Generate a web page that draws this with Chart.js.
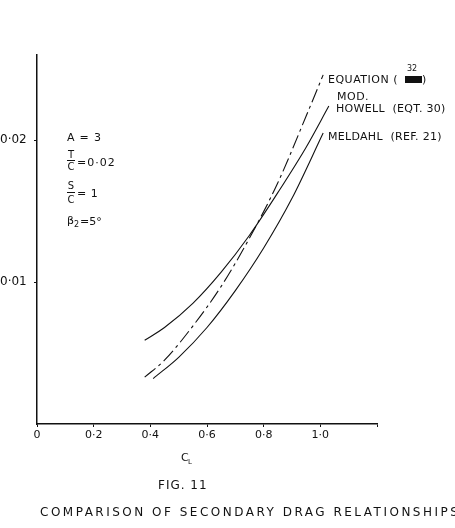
<!DOCTYPE html>
<html lang="en">
<head>
  <meta charset="UTF-8" />
  <title>Fig. 11 - Secondary drag relationships</title>
  <style>
    body { margin: 0; background: #fff; }
    #wrap { width: 455px; height: 528px; }
  </style>
</head>
<body>
  <div id="wrap">
    <canvas id="fig11" width="455" height="528"></canvas>
  </div>

  <script src="https://cdn.jsdelivr.net/npm/chart.js"></script>
  <script>
    // values (C_L vs secondary drag coefficient)
    const eqnCL   = [0.38, 0.45, 0.55, 0.65, 0.75, 0.85, 0.95, 1.01];
    const eqnCD   = [0.0033, 0.0045, 0.0069, 0.0097, 0.0131, 0.0170, 0.0217, 0.0246];

    const howellCL = [0.38, 0.45, 0.55, 0.65, 0.75, 0.85, 0.95, 1.03];
    const howellCD = [0.0059, 0.0068, 0.0085, 0.0107, 0.0133, 0.0163, 0.0195, 0.0224];

    const meldahlCL = [0.41, 0.50, 0.60, 0.70, 0.80, 0.90, 1.01];
    const meldahlCD = [0.0032, 0.0047, 0.0068, 0.0094, 0.0124, 0.0159, 0.0205];

    const xTicks = [0, 0.2, 0.4, 0.6, 0.8, 1.0, 1.2];
    const xTickLabels = ["0", "0·2", "0·4", "0·6", "0·8", "1·0", ""];
    const yTicks = [0.01, 0.02];
    const yTickLabels = ["0·01", "0·02"];

    const FONT = '"DejaVu Sans", sans-serif';

    function pts(xs, ys) {
      return xs.map((x, i) => ({ x: x, y: ys[i] }));
    }

    function txt(ctx, s, x, y, size, spacing, align) {
      ctx.font = size + 'px ' + FONT;
      ctx.letterSpacing = (spacing || 0) + 'px';
      ctx.textAlign = align || 'left';
      ctx.textBaseline = 'middle';
      ctx.fillText(s, x, y);
    }

    const notes = {
      id: 'notes',
      afterDraw(chart) {
        const ctx = chart.ctx;
        ctx.save();
        ctx.fillStyle = '#111';
        ctx.strokeStyle = '#111';
        ctx.lineWidth = 1;

        // parameters on the left
        txt(ctx, 'A = 3', 67, 138, 11, 0.8);
        txt(ctx, 'T', 71, 155, 10, 0, 'center');
        ctx.beginPath(); ctx.moveTo(67, 160.5); ctx.lineTo(75, 160.5); ctx.stroke();
        txt(ctx, 'C', 71, 167, 10, 0, 'center');
        txt(ctx, '=0·02', 77, 163, 11, 1);
        txt(ctx, 'S', 71, 186, 10, 0, 'center');
        ctx.beginPath(); ctx.moveTo(67, 192.5); ctx.lineTo(75, 192.5); ctx.stroke();
        txt(ctx, 'C', 71, 200, 10, 0, 'center');
        txt(ctx, '= 1', 77, 194, 11, 0.5);
        txt(ctx, 'β', 67, 221, 11, 0);
        txt(ctx, '2', 74, 225, 8, 0);
        txt(ctx, '=5°', 80, 222, 11, 0);

        // curve labels
        txt(ctx, 'EQUATION (', 328, 80, 11, 0.5);
        ctx.fillRect(405, 76, 17, 7);
        txt(ctx, ')', 422, 80, 11, 0);
        txt(ctx, '32', 412, 69, 8, 0, 'center');
        txt(ctx, 'MOD.', 337, 97, 11, 0.5);
        txt(ctx, 'HOWELL  (EQT. 30)', 336, 109, 11, 0.3);
        txt(ctx, 'MELDAHL  (REF. 21)', 328, 137, 11, 0.3);

        // axis title and captions
        txt(ctx, 'C', 181, 458, 11, 0);
        txt(ctx, 'L', 188, 462, 7, 0);
        txt(ctx, 'FIG. 11', 158, 486, 12, 1);
        txt(ctx, 'COMPARISON OF SECONDARY DRAG RELATIONSHIPS', 40, 513, 12, 2.5);
        ctx.restore();
      }
    };

    const ctx = document.getElementById('fig11').getContext('2d');
    new Chart(ctx, {
      type: 'line',
      data: {
        datasets: [
          {
            label: 'Equation (32)',
            data: pts(eqnCL, eqnCD),
            borderColor: '#111',
            borderWidth: 1.1,
            borderDash: [14, 4, 3, 4],
            pointRadius: 0,
            cubicInterpolationMode: 'monotone',
            fill: false
          },
          {
            label: 'Mod. Howell (Eqt. 30)',
            data: pts(howellCL, howellCD),
            borderColor: '#111',
            borderWidth: 1.1,
            pointRadius: 0,
            cubicInterpolationMode: 'monotone',
            fill: false
          },
          {
            label: 'Meldahl (Ref. 21)',
            data: pts(meldahlCL, meldahlCD),
            borderColor: '#111',
            borderWidth: 1.1,
            pointRadius: 0,
            cubicInterpolationMode: 'monotone',
            fill: false
          }
        ]
      },
      options: {
        responsive: false,
        animation: false,
        layout: { padding: { left: 0, right: 78, top: 55, bottom: 0 } },
        plugins: { legend: { display: false }, tooltip: { enabled: false } },
        scales: {
          x: {
            type: 'linear',
            min: 0,
            max: 1.2,
            afterBuildTicks: s => { s.ticks = xTicks.map(v => ({ value: v })); },
            afterFit: s => { s.height = 104; },
            border: { color: '#111', width: 1.5 },
            grid: { drawOnChartArea: false, tickLength: 3, color: '#111' },
            ticks: {
              color: '#111',
              font: { family: 'DejaVu Sans', size: 11 },
              padding: 2,
              maxRotation: 0,
              callback: (v, i) => xTickLabels[i]
            }
          },
          y: {
            min: 0,
            max: 0.026,
            afterBuildTicks: s => { s.ticks = yTicks.map(v => ({ value: v })); },
            afterFit: s => { s.width = 37; },
            border: { color: '#111', width: 1.5 },
            grid: { drawOnChartArea: false, tickLength: 3, color: '#111' },
            ticks: {
              color: '#111',
              font: { family: 'DejaVu Sans', size: 12 },
              padding: 2,
              crossAlign: 'far',
              callback: (v, i) => yTickLabels[i]
            }
          }
        }
      },
      plugins: [notes]
    });
  </script>
</body>
</html>
